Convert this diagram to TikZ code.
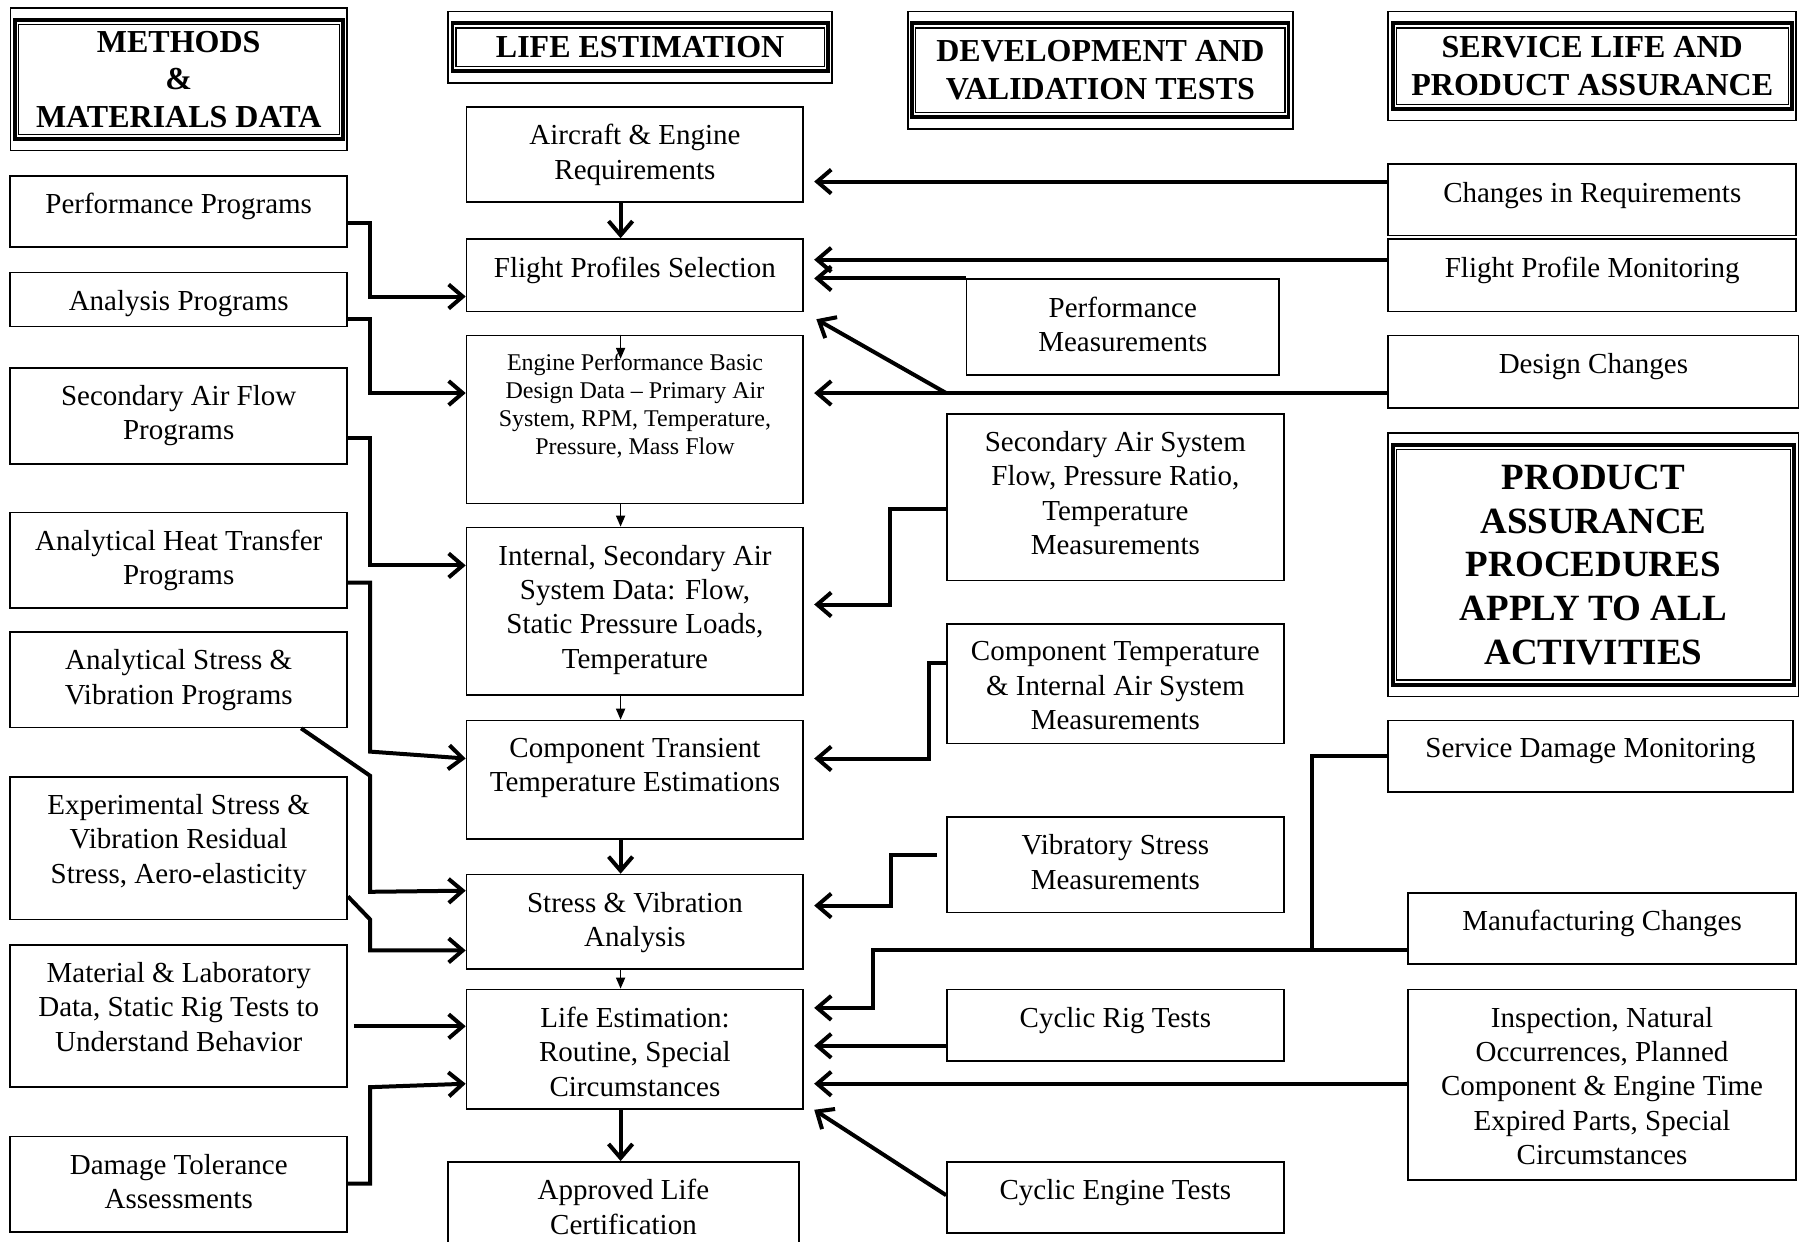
\documentclass[tikz,border=0pt]{standalone}
\usepackage{fontspec}
\setmainfont{Liberation Serif}
\usetikzlibrary{arrows.meta}

\newlength{\px}
\setlength{\px}{0.5746pt}
\newcommand{\boxfont}{\fontsize{14.5}{17.2}\selectfont}
\newcommand{\smallboxfont}{\fontsize{12}{14}\selectfont}
\newcommand{\headfont}{\fontsize{16}{18.7}\selectfont\bfseries}
\newcommand{\bigheadfont}{\fontsize{18.5}{21.8}\selectfont\bfseries}

\begin{document}
\begin{tikzpicture}[
    x=0.5746pt, y=-0.5746pt,
    box/.style={draw, line width=0.85pt, inner sep=0pt},
    sz/.style 2 args={minimum width=#1*\px, minimum height=#2*\px},
    txt/.style={draw=none, anchor=north, yshift=-9pt, inner sep=0pt,
                minimum width=0pt, minimum height=0pt, align=center, font=\boxfont},
    lbl/.style={label={[txt]north:{#1}}},
    lbls/.style={label={[txt, font=\smallboxfont]north:{#1}}},
    head/.style={draw, line width=0.8pt, inner sep=0pt, align=center, font=\headfont},
    flow/.style={-{Straight Barb[length=7pt, width=12pt]}, line width=2pt},
    thinflow/.style={-{Triangle[length=5.5pt, width=4.5pt]}, line width=0.8pt},
    link/.style={line width=2pt},
    into/.style={shorten >=5pt},
]

    \useasboundingbox (0,0) rectangle (1568,1080);
    \clip (0,0) rectangle (1568,1080);

    \node[head, sz={293}{124}] (hmeth) at (155.5,69) {METHODS\\\&\\MATERIALS DATA};
    \node[head, sz={334}{62}] (hlife) at (557,41) {LIFE ESTIMATION};
    \node[head, sz={335}{102}] (hdev) at (957.5,61) {DEVELOPMENT AND\\VALIDATION TESTS};
    \node[head, sz={355}{95}] (hserv) at (1385.5,57.5) {SERVICE LIFE AND\\PRODUCT ASSURANCE};
    \node[head, sz={357}{229}, font=\bigheadfont] (hprod) at (1386.5,491.5)
        {PRODUCT\\ASSURANCE\\PROCEDURES\\APPLY TO ALL\\ACTIVITIES};
    \foreach \h in {hmeth, hlife, hdev, hserv, hprod} {
        \draw[line width=1.9pt] ([shift={(4.5,-11)}]\h.south west) rectangle ([shift={(-4.5,11)}]\h.north east);
        \draw[line width=0.6pt] ([shift={(7.5,-15)}]\h.south west) rectangle ([shift={(-7.5,15)}]\h.north east);
    }

    \node[box, sz={293}{62}, lbl={Performance Programs}] (perfprog) at (155.5,184) {};
    \node[box, sz={293}{47}, lbl={Analysis Programs}] (anaprog) at (155.5,260.5) {};
    \node[box, sz={293}{84}, lbl={Secondary Air Flow\\Programs}] (secprog) at (155.5,362) {};
    \node[box, sz={293}{83}, lbl={Analytical Heat Transfer\\Programs}] (heatprog) at (155.5,487.5) {};
    \node[box, sz={293}{83}, lbl={Analytical Stress \&\\Vibration Programs}] (stressprog) at (155.5,591.5) {};
    \node[box, sz={293}{124}, lbl={Experimental Stress \&\\Vibration Residual\\Stress, Aero-elasticity}] (expstress) at (155.5,738) {};
    \node[box, sz={293}{124}, lbl={Material \& Laboratory\\Data, Static Rig Tests to\\Understand Behavior}] (matlab) at (155.5,884) {};
    \node[box, sz={293}{83}, lbl={Damage Tolerance\\Assessments}] (damage) at (155.5,1030.5) {};

    \node[box, sz={293}{83}, lbl={Aircraft \& Engine\\Requirements}] (aircraft) at (552.5,134.5) {};
    \node[box, sz={293}{63}, lbl={Flight Profiles Selection}] (flight) at (552.5,239.5) {};
    \node[box, sz={293}{146}, lbls={Engine Performance Basic\\Design Data -- Primary Air\\System, RPM, Temperature,\\Pressure, Mass Flow}] (engperf) at (552.5,365) {};
    \node[box, sz={293}{146}, lbl={Internal, Secondary Air\\System Data: Flow,\\Static Pressure Loads,\\Temperature}] (internal) at (552.5,532) {};
    \node[box, sz={293}{103}, lbl={Component Transient\\Temperature Estimations}] (comptrans) at (552.5,678.5) {};
    \node[box, sz={293}{82}, lbl={Stress \& Vibration\\Analysis}] (stressvib) at (552.5,802) {};
    \node[box, sz={293}{104}, lbl={Life Estimation:\\Routine, Special\\Circumstances}] (lifeest) at (552.5,913) {};
    \node[box, sz={305}{89}, lbl={Approved Life\\Certification}] (approved) at (542.5,1055.5) {};

    \node[box, sz={272}{83}, lbl={Performance\\Measurements}] (perfmeas) at (977,284.5) {};
    \node[box, sz={293}{145}, lbl={Secondary Air System\\Flow, Pressure Ratio,\\Temperature\\Measurements}] (secmeas) at (970.5,432.5) {};
    \node[box, sz={293}{104}, lbl={Component Temperature\\\& Internal Air System\\Measurements}] (compmeas) at (970.5,595) {};
    \node[box, sz={293}{83}, lbl={Vibratory Stress\\Measurements}] (vibmeas) at (970.5,752.5) {};
    \node[box, sz={293}{62}, lbl={Cyclic Rig Tests}] (cycrig) at (970.5,892) {};
    \node[box, sz={293}{62}, lbl={Cyclic Engine Tests}] (cyceng) at (970.5,1042) {};

    \node[box, sz={355}{62}, lbl={Changes in Requirements}] (chreq) at (1385.5,174) {};
    \node[box, sz={355}{63}, lbl={Flight Profile Monitoring}] (fpmon) at (1385.5,239.5) {};
    \node[box, sz={357}{63}, lbl={Design Changes}] (design) at (1386.5,323.5) {};
    \node[box, sz={352}{62}, lbl={Service Damage Monitoring}] (sdmon) at (1384,658) {};
    \node[box, sz={338}{62}, lbl={Manufacturing Changes}] (mfg) at (1394,808) {};
    \node[box, sz={338}{166}, lbl={Inspection, Natural\\Occurrences, Planned\\Component \& Engine Time\\Expired Parts, Special\\Circumstances}] (inspect) at (1394,944) {};

    \draw[flow] (perfprog.east |- 0,194) -| (322,258) -- (flight.west |- 0,258);
    \draw[flow] (anaprog.east |- 0,278) -| (322,342) -- (engperf.west |- 0,342);
    \draw[flow] (secprog.east |- 0,381) -| (322,492) -- (internal.west |- 0,492);
    \draw[flow] (heatprog.east |- 0,507) -| (322,654) -- (comptrans.west |- 0,660);
    \draw[flow] (stressprog.south -| 262,0) -- (322,675) -- (322,776) -- (stressvib.west |- 0,775);
    \draw[flow] (expstress.east |- 0,780) -- (322,800) -- (322,827) -- (stressvib.west |- 0,827);
    \draw[flow, shorten <=3pt] (matlab.east |- 0,893) -- (lifeest.west |- 0,893);
    \draw[flow] (damage.east |- 0,1030) -| (322,946) -- (lifeest.west |- 0,943);

    \draw[flow] (aircraft.south -| 540,0) -- (flight.north -| 540,0);
    \draw[thinflow] (engperf.north -| 540,0) -- ++(0,21);
    \draw[thinflow] (engperf.south -| 540,0) -- (internal.north -| 540,0);
    \draw[thinflow] (internal.south -| 540,0) -- (comptrans.north -| 540,0);
    \draw[flow] (comptrans.south -| 540,0) -- (stressvib.north -| 540,0);
    \draw[thinflow] (stressvib.south -| 540,0) -- (lifeest.north -| 540,0);
    \draw[flow] (lifeest.south -| 540,0) -- (approved.north -| 540,0);

    \draw[flow, into] (chreq.west |- 0,158) -- (aircraft.east |- 0,158);
    \draw[flow, into] (fpmon.west |- 0,226) -- (flight.east |- 0,226);
    \draw[flow, into] (perfmeas.north west) -- (flight.east |- perfmeas.north west);
    \draw[flow, into] (design.west |- 0,342) -- (engperf.east |- 0,342);
    \draw[flow, shorten >=7pt] (secmeas.west |- 0,342) -- (flight.south east);
    \draw[flow, into] (secmeas.west |- 0,443) -| (774,526) -- (internal.east |- 0,526);
    \draw[flow, into] (compmeas.west |- 0,577) -| (808,660) -- (comptrans.east |- 0,660);
    \draw[flow, into, shorten <=4.5pt] (vibmeas.west |- 0,744) -| (775,788) -- (stressvib.east |- 0,788);
    \draw[link] (sdmon.west) -| (1142,827);
    \draw[flow, into] (mfg.west |- 0,827) -| (760,877) -- (lifeest.east |- 0,877);
    \draw[flow, into] (cycrig.west |- 0,910) -- (lifeest.east |- 0,910);
    \draw[flow, into] (inspect.west |- 0,943) -- (lifeest.east |- 0,943);
    \draw[flow, shorten >=6pt] (cyceng.west |- 0,1040) -- (lifeest.east |- 0,960);
\end{tikzpicture}
\end{document}
